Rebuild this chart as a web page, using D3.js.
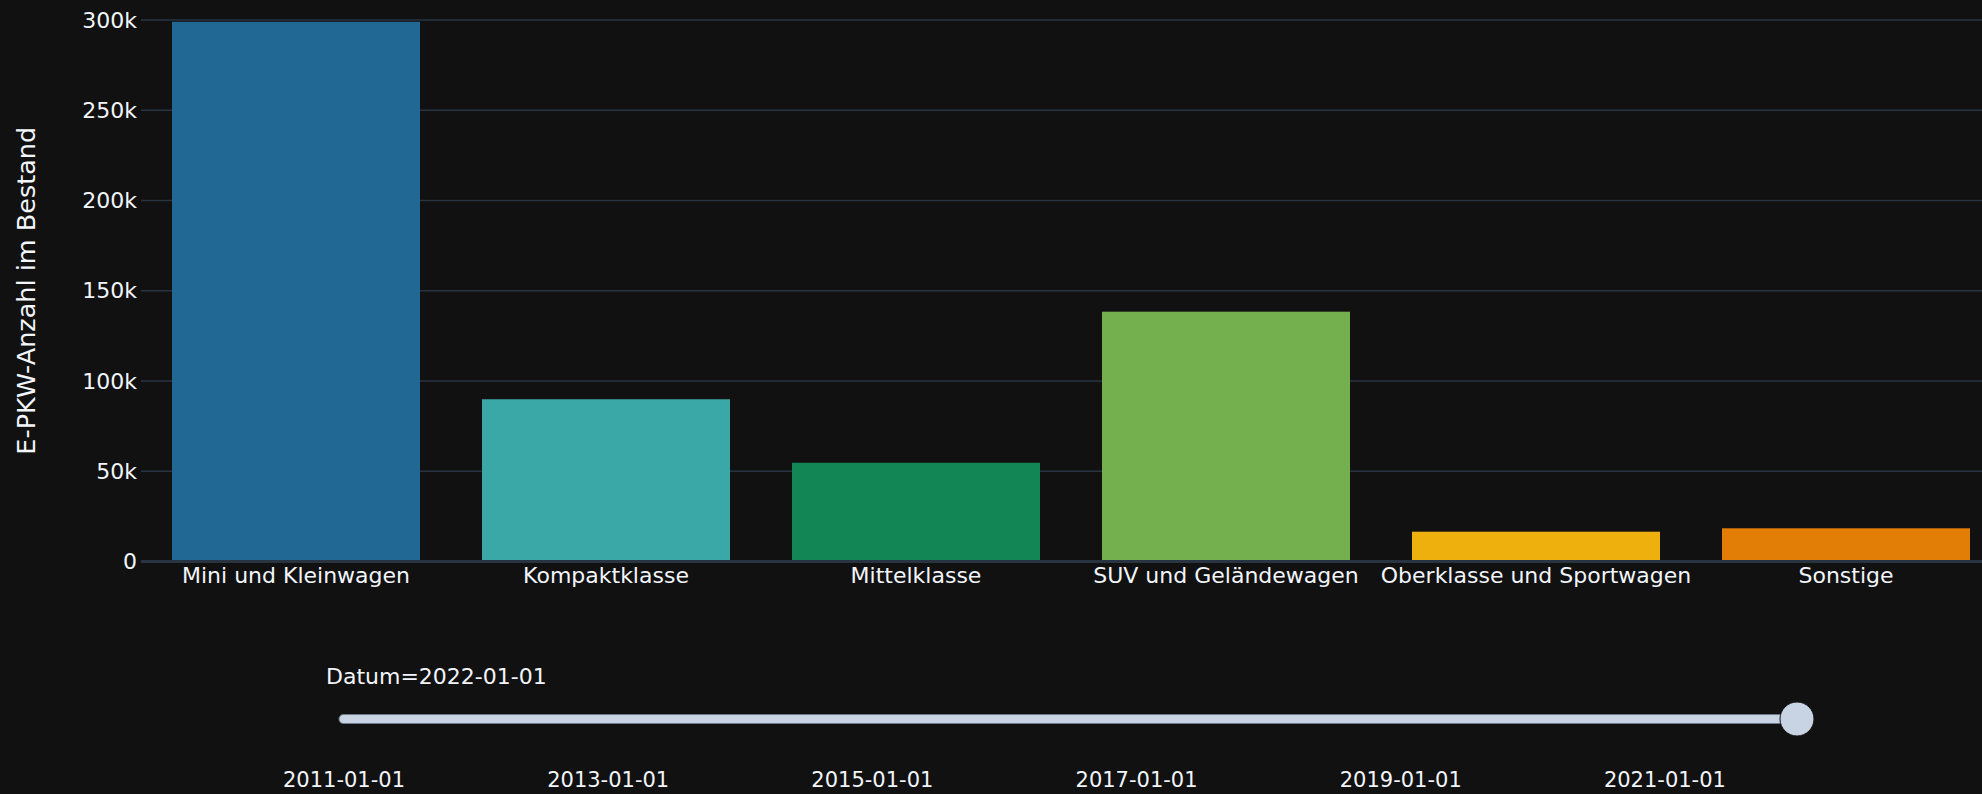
<!DOCTYPE html>
<html>
<head>
<meta charset="utf-8">
<script src="https://cdn.jsdelivr.net/npm/d3@7"></script>
<style>
body { margin: 0; background: #111111; overflow: hidden; }
text { font-family: "DejaVu Sans", Verdana, sans-serif; fill: #f2f5fa; }
</style>
</head>
<body>
<script>
const width = 1982
const height = 794

// values for Datum = 2022-01-01
const categories = ["Mini und Kleinwagen", "Kompaktklasse", "Mittelklasse", "SUV und Geländewagen", "Oberklasse und Sportwagen", "Sonstige"]
const counts = [299000, 89900, 54700, 138400, 16500, 18400]
const barColors = ["#216895", "#3aa8a6", "#128655", "#75b04e", "#edb00d", "#e27d06"]
const yTicks = [0, 50000, 100000, 150000, 200000, 250000, 300000]
const dates = ["2011-01-01", "2012-01-01", "2013-01-01", "2014-01-01", "2015-01-01", "2016-01-01",
    "2017-01-01", "2018-01-01", "2019-01-01", "2020-01-01", "2021-01-01", "2022-01-01"]
const activeDate = "2022-01-01"

const svg = d3.select("body").append("svg")
    .attr("width", width)
    .attr("height", height)

svg.append("rect").attr("width", width).attr("height", height).attr("fill", "#111111")

const x = d3.scaleBand()
    .domain(categories)
    .range([141, 2001])
    .paddingInner(0.2)
    .paddingOuter(0.1)

const y = d3.scaleLinear()
    .domain([0, 300000])
    .range([561.5, 20])

// grid
svg.append("g")
    .selectAll("line")
    .data(yTicks.filter(d => d > 0))
    .enter()
    .append("line")
    .attr("x1", 141)
    .attr("x2", 2001)
    .attr("y1", d => y(d))
    .attr("y2", d => y(d))
    .attr("stroke", "#283442")
    .attr("stroke-width", 1.5)

// bars
svg.append("g")
    .selectAll("rect")
    .data(categories)
    .enter()
    .append("rect")
    .attr("x", d => x(d))
    .attr("width", x.bandwidth())
    .attr("y", (d, i) => y(counts[i]))
    .attr("height", (d, i) => y(0) - y(counts[i]))
    .attr("fill", (d, i) => barColors[i])

// zero line
svg.append("line")
    .attr("x1", 141).attr("x2", 2001)
    .attr("y1", y(0)).attr("y2", y(0))
    .attr("stroke", "#283442")
    .attr("stroke-width", 3)

// y axis labels
const yAxis = d3.axisLeft(y)
    .tickValues(yTicks)
    .tickSize(0)
    .tickPadding(0)
    .tickFormat(d => d === 0 ? "0" : d3.format("~s")(d))
const yg = svg.append("g").attr("transform", "translate(137,0)").call(yAxis)
yg.select(".domain").remove()
yg.selectAll("text").attr("font-size", 22).attr("fill", "#f2f5fa")
    .attr("font-family", "DejaVu Sans, Verdana, sans-serif")

// x axis labels
const xAxis = d3.axisBottom(x).tickSize(0).tickPadding(0)
const xg = svg.append("g").attr("transform", `translate(0,${y(0) + 6})`).call(xAxis)
xg.select(".domain").remove()
xg.selectAll("text").attr("font-size", 22).attr("fill", "#f2f5fa")
    .attr("font-family", "DejaVu Sans, Verdana, sans-serif")

// y axis title
svg.append("text")
    .attr("transform", `translate(35,${(y(0) + y(300000)) / 2}) rotate(-90)`)
    .attr("text-anchor", "middle")
    .attr("font-size", 25.5)
    .text("E-PKW-Anzahl im Bestand")

// slider
const s = d3.scalePoint().domain(dates).range([344, 1797])
const sliderY = 719

svg.append("text")
    .attr("x", 326)
    .attr("y", 676)
    .attr("dominant-baseline", "central")
    .attr("font-size", 22)
    .text("Datum=" + activeDate)

svg.append("rect")
    .attr("x", 339)
    .attr("y", sliderY - 4.5)
    .attr("width", s(activeDate) - 339 + 10)
    .attr("height", 9)
    .attr("rx", 4.5)
    .attr("fill", "#c8d4e3")
    .attr("stroke", "#6d7886")
    .attr("stroke-width", 1)

svg.append("g")
    .selectAll("text")
    .data(dates.filter((d, i) => i % 2 === 0))
    .enter()
    .append("text")
    .attr("x", d => s(d))
    .attr("y", 780)
    .attr("text-anchor", "middle")
    .attr("dominant-baseline", "central")
    .attr("font-size", 21)
    .text(d => d)

svg.append("circle")
    .attr("cx", s(activeDate))
    .attr("cy", sliderY)
    .attr("r", 17)
    .attr("fill", "#c8d4e3")
    .attr("stroke", "#111111")
    .attr("stroke-width", 1)
</script>
</body>
</html>
